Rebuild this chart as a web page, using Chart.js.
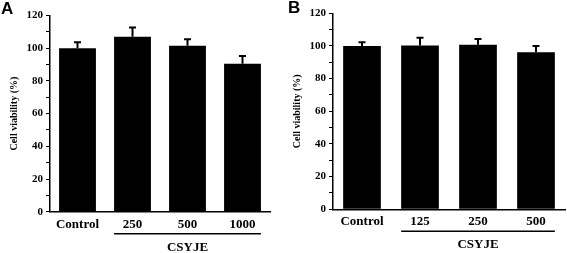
<!DOCTYPE html>
<html>
<head>
<meta charset="utf-8">
<script src="https://cdn.jsdelivr.net/npm/chart.js@4/dist/chart.umd.min.js"></script>
<style>
  html, body { margin: 0; padding: 0; background: #fff; }
  #wrap { position: relative; width: 567px; height: 253px; overflow: hidden; }
  canvas { position: absolute; top: 0; }
  .panel { position: absolute; font: bold 17px "Liberation Sans", Arial, sans-serif; color: #000; }
</style>
</head>
<body>
<div id="wrap">
  <canvas id="chart-a" width="283" height="253" style="left:0"></canvas>
  <canvas id="chart-b" width="284" height="253" style="left:283px"></canvas>
  <div class="panel" style="left:1px;top:-1px">A</div>
  <div class="panel" style="left:288px;top:-2px">B</div>
</div>
<script>
const labels_a = ["Control", "250", "500", "1000"];
const values_a = [100, 107, 101.5, 90.5];
const errors_a = [3.7, 5.7, 3.9, 4.7];

const labels_b = ["Control", "125", "250", "500"];
const values_b = [100, 100.3, 100.8, 96.2];
const errors_b = [2.3, 4.8, 3.4, 3.8];

const group_label = "CSYJE";
const y_title = "Cell viability (%)";

const serif = "'Liberation Serif', 'Times New Roman', serif";
Chart.defaults.color = "#000";
Chart.defaults.font.family = serif;

// upper error bars + bracket under the treated groups
const extras = {
  id: "extras",
  afterDatasetsDraw(chart, args, opts) {
    const ctx = chart.ctx;
    const meta = chart.getDatasetMeta(0);
    const y = chart.scales.y;
    ctx.save();
    ctx.strokeStyle = "#000";
    ctx.lineWidth = 2;
    meta.data.forEach(function (bar, i) {
      const top = y.getPixelForValue(opts.values[i] + opts.errors[i]);
      ctx.beginPath();
      ctx.moveTo(bar.x, bar.y);
      ctx.lineTo(bar.x, top);
      ctx.moveTo(bar.x - 3.5, top);
      ctx.lineTo(bar.x + 3.5, top);
      ctx.stroke();
    });
    const first = meta.data[1];
    const last = meta.data[meta.data.length - 1];
    const x0 = first.x - first.width / 2;
    const x1 = last.x + last.width / 2;
    const ly = chart.chartArea.bottom + 22;
    ctx.lineWidth = 1.5;
    ctx.beginPath();
    ctx.moveTo(x0, ly);
    ctx.lineTo(x1, ly);
    ctx.stroke();
    ctx.fillStyle = "#000";
    ctx.font = "bold 13px " + serif;
    ctx.textAlign = "center";
    ctx.textBaseline = "middle";
    ctx.fillText(group_label, (x0 + x1) / 2, ly + 13.5);
    ctx.restore();
  },
};

function make_chart(id, labels, values, errors, pad, axis_h, bar_pct) {
  return new Chart(document.getElementById(id), {
    type: "bar",
    data: {
      labels: labels,
      datasets: [
        {
          data: values,
          backgroundColor: "#000",
          barPercentage: bar_pct,
          categoryPercentage: 1,
        },
      ],
    },
    options: {
      responsive: false,
      animation: false,
      devicePixelRatio: 1,
      layout: { padding: pad },
      plugins: {
        legend: { display: false },
        tooltip: { enabled: false },
        extras: { values: values, errors: errors },
      },
      scales: {
        x: {
          grid: { display: false, drawTicks: false, tickLength: 0 },
          border: { display: true, color: "#000", width: 1.5 },
          ticks: { padding: 5, font: { size: 13, weight: "bold" } },
          afterFit: function (s) { s.height = axis_h; },
        },
        y: {
          min: 0,
          max: 120,
          grid: { drawOnChartArea: false, color: "#000", tickLength: 4, lineWidth: 1 },
          border: { display: true, color: "#000", width: 1.5 },
          ticks: {
            stepSize: 10,
            padding: 3,
            autoSkip: false,
            font: { size: 11, weight: "bold" },
            callback: function (v) { return v % 20 === 0 ? v : ""; },
          },
          title: {
            display: true,
            text: y_title,
            font: { size: 10, weight: "bold" },
            padding: { top: 8, bottom: 0 },
          },
          afterFit: function (s) { s.width = 50; },
        },
      },
    },
    plugins: [extras],
  });
}

make_chart("chart-a", labels_a, values_a, errors_a, { top: 15.5, right: 13, left: 0, bottom: 0 }, 41.3, 0.67);
make_chart("chart-b", labels_b, values_b, errors_b, { top: 13.3, right: 2, left: 0, bottom: 0 }, 43.7, 0.65);
</script>
</body>
</html>
